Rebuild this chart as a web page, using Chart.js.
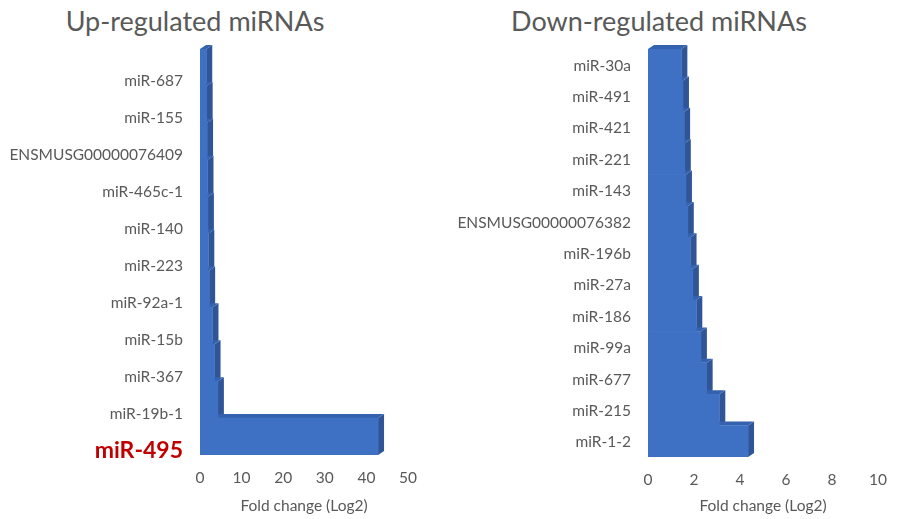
<!DOCTYPE html>
<html lang="en">
<head>
  <meta charset="UTF-8">
  <title>Up / Down-regulated miRNAs</title>
  <script src="https://cdn.jsdelivr.net/npm/chart.js"></script>
  <style>
    body { margin: 0; padding: 0; background: #fff; font-family: Lato, sans-serif; }
    .wrap { position: relative; width: 901px; height: 519px; overflow: hidden; }
    .box { position: absolute; top: 0; height: 519px; }
    .title { position: absolute; top: 4px; font-size: 27px; color: #595959; transform: translateX(-50%); white-space: nowrap; }
  </style>
</head>
<body>
  <div class="wrap">
    <div class="title" style="left:195px">Up-regulated miRNAs</div>
    <div class="title" style="left:659px">Down-regulated miRNAs</div>
    <div class="box" style="left:0;width:450px"><canvas id="upChart"></canvas></div>
    <div class="box" style="left:450px;width:451px"><canvas id="downChart"></canvas></div>
  </div>

  <script>
    // Up-regulated
    const upLabels = ['miR-687', 'miR-155', 'ENSMUSG00000076409', 'miR-465c-1', 'miR-140', 'miR-223',
                      'miR-92a-1', 'miR-15b', 'miR-367', 'miR-19b-1', 'miR-495'];
    const upValues = [1.5, 1.6, 1.7, 1.8, 1.9, 2.0, 2.2, 3.0, 3.5, 4.3, 42.8];
    const upTicks = [0, 10, 20, 30, 40, 50];

    // Down-regulated
    const downLabels = ['miR-30a', 'miR-491', 'miR-421', 'miR-221', 'miR-143', 'ENSMUSG00000076382',
                        'miR-196b', 'miR-27a', 'miR-186', 'miR-99a', 'miR-677', 'miR-215', 'miR-1-2'];
    const downValues = [1.45, 1.52, 1.57, 1.6, 1.65, 1.73, 1.85, 1.95, 2.1, 2.3, 2.55, 3.1, 4.35];
    const downTicks = [0, 2, 4, 6, 8, 10];

    const highlight = 'miR-495';
    const gray = '#595959';

    // fake excel 3D look: side + top faces drawn behind the front faces
    const depth3d = {
      id: 'depth3d',
      beforeDatasetsDraw(chart) {
        const ctx = chart.ctx;
        const dx = 6, dy = 4;
        chart.getDatasetMeta(0).data.forEach(bar => {
          const p = bar.getProps(['x', 'y', 'base', 'height'], true);
          const top = p.y - p.height / 2, bottom = p.y + p.height / 2;
          ctx.save();
          ctx.fillStyle = '#2F5597';
          ctx.beginPath();
          ctx.moveTo(p.x, top);
          ctx.lineTo(p.x + dx, top - dy);
          ctx.lineTo(p.x + dx, bottom - dy);
          ctx.lineTo(p.x, bottom);
          ctx.closePath();
          ctx.fill();
          ctx.fillStyle = '#3562AE';
          ctx.beginPath();
          ctx.moveTo(p.base, top);
          ctx.lineTo(p.base + dx, top - dy);
          ctx.lineTo(p.x + dx, top - dy);
          ctx.lineTo(p.x, top);
          ctx.closePath();
          ctx.fill();
          ctx.restore();
        });
      }
    };

    function makeChart(id, labels, values, ticks, yWidth, padRight, bottomPx, labelOffset) {
      new Chart(document.getElementById(id), {
        type: 'bar',
        data: {
          labels: labels,
          datasets: [{
            data: values,
            backgroundColor: '#3E70C3',
            borderWidth: 0,
            barPercentage: 1,
            categoryPercentage: 1
          }]
        },
        options: {
          indexAxis: 'y',
          responsive: true,
          maintainAspectRatio: false,
          animation: false,
          layout: { padding: { top: 49, right: padRight, bottom: 0, left: 0 } },
          plugins: { legend: { display: false }, tooltip: { enabled: false } },
          scales: {
            x: {
              min: ticks[0],
              max: ticks[ticks.length - 1],
              ticks: {
                stepSize: ticks[1] - ticks[0],
                color: gray,
                padding: 14,
                font: { family: 'Lato', size: 15.5 }
              },
              grid: { display: false, drawTicks: false },
              border: { display: false },
              title: {
                display: true,
                text: 'Fold change (Log2)',
                color: gray,
                font: { family: 'Lato', size: 15.5 },
                padding: { top: 0, bottom: 4 }
              },
              afterFit(scale) { scale.height = bottomPx; }
            },
            y: {
              ticks: {
                autoSkip: false,
                padding: 17,
                labelOffset: labelOffset,
                color: ctx => labels[ctx.index] === highlight ? '#C00000' : gray,
                font: ctx => labels[ctx.index] === highlight
                  ? { family: 'Lato', size: 23, weight: 'bold' }
                  : { family: 'Lato', size: 15.5 }
              },
              grid: { display: false, drawTicks: false },
              border: { display: false },
              afterFit(scale) { scale.width = yWidth; }
            }
          }
        },
        plugins: [depth3d]
      });
    }

    makeChart('upChart', upLabels, upValues, upTicks, 200, 42, 64, 14);
    makeChart('downChart', downLabels, downValues, downTicks, 198, 11, 62, 1);
  </script>
</body>
</html>
